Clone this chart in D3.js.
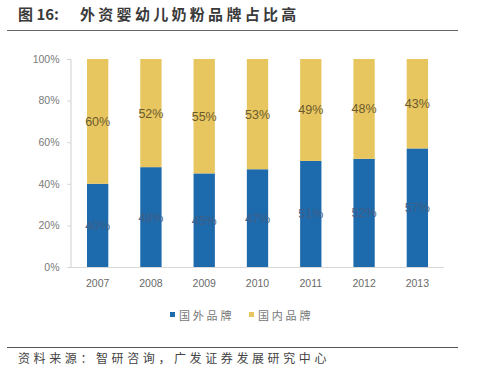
<!DOCTYPE html>
<html>
<head>
<meta charset="utf-8">
<script src="https://cdn.jsdelivr.net/npm/d3@7"></script>
<style>
  body { margin: 0; background: #fff; }
  svg { display: block; }
</style>
</head>
<body>
<div id="chart"></div>
<script>
// data
var years = ["2007", "2008", "2009", "2010", "2011", "2012", "2013"];
var foreignShare = [40, 48, 45, 47, 51, 52, 57];   // 国外品牌
var domesticShare = [60, 52, 55, 53, 49, 48, 43];  // 国内品牌
var seriesNames = ["国外品牌", "国内品牌"];
var yTicks = [0, 20, 40, 60, 80, 100];

var w = 486, h = 376;
var cnFont = "'Noto Sans CJK SC', sans-serif";

var svg = d3.select("#chart").append("svg")
    .attr("width", w)
    .attr("height", h);

// title + rule
var title = svg.append("text")
    .attr("x", 18).attr("y", 20)
    .attr("font-family", cnFont)
    .attr("font-size", 15)
    .attr("font-weight", "bold")
    .attr("fill", "#3a3a3a");
title.append("tspan").text("图 16:");
title.append("tspan").attr("x", 80).attr("letter-spacing", 3.3).text("外资婴幼儿奶粉品牌占比高");

svg.append("line")
    .attr("x1", 7).attr("x2", 458)
    .attr("y1", 30.5).attr("y2", 30.5)
    .attr("stroke", "#666").attr("stroke-width", 1.2);

var x = d3.scaleBand()
    .domain(years)
    .range([71, 444])
    .paddingInner(0.6)
    .paddingOuter(0.3);

var y = d3.scaleLinear()
    .domain([0, 100])
    .range([267, 59]);

// y axis
var yAxis = svg.append("g")
    .attr("transform", "translate(70.5,0)")
    .call(d3.axisLeft(y).tickValues(yTicks).tickSize(3).tickPadding(8)
        .tickFormat(function(d) { return d + "%"; }));
yAxis.selectAll("path, line").attr("stroke", "#d0d0d0");
yAxis.selectAll("text")
    .attr("font-family", "Arial, 'Liberation Sans', sans-serif")
    .attr("font-size", 10.5)
    .attr("fill", "#7a7a7a");

// x axis
var xAxis = svg.append("g")
    .attr("transform", "translate(0,267.5)")
    .call(d3.axisBottom(x).tickSize(0).tickPadding(12));
xAxis.select("path").attr("d", "M70.5,0H444").attr("stroke", "#d8d8d8");
xAxis.selectAll("text")
    .attr("font-family", "Arial, 'Liberation Sans', sans-serif")
    .attr("font-size", 10.5)
    .attr("fill", "#6a6a6a");

var colors = ["#1d6aad", "#e7c660"];

var rows = years.map(function(yr, i) {
    return { year: yr, foreign: foreignShare[i], domestic: domesticShare[i] };
});
var stack = d3.stack().keys(["foreign", "domestic"]);
var series = stack(rows);

series.forEach(function(s, si) {
    svg.append("g").selectAll("rect")
        .data(s)
        .enter()
        .append("rect")
        .attr("x", function(d) { return x(d.data.year); })
        .attr("width", x.bandwidth())
        .attr("y", function(d) { return y(d[1]); })
        .attr("height", function(d) { return y(d[0]) - y(d[1]); })
        .attr("fill", colors[si]);

    svg.append("g").selectAll("text")
        .data(s)
        .enter()
        .append("text")
        .attr("x", function(d) { return x(d.data.year) + x.bandwidth() / 2; })
        .attr("y", function(d) { return y((d[0] + d[1]) / 2) + 4.5; })
        .attr("text-anchor", "middle")
        .attr("font-family", "Arial, 'Liberation Sans', sans-serif")
        .attr("font-size", 12.5)
        .attr("fill", si === 0 ? "#3f5f86" : "#6b5a2e")
        .text(function(d) { return (d[1] - d[0]) + "%"; });
});

// legend
var legend = svg.append("g");
var legendX = [170, 249];
seriesNames.forEach(function(name, i) {
    legend.append("rect")
        .attr("x", legendX[i]).attr("y", 312)
        .attr("width", 5).attr("height", 5)
        .attr("fill", colors[i]);
    legend.append("text")
        .attr("x", legendX[i] + 9).attr("y", 319.5)
        .attr("font-family", cnFont)
        .attr("font-size", 11)
        .attr("letter-spacing", 2.8)
        .attr("fill", "#777")
        .text(name);
});

// source rule + text
svg.append("line")
    .attr("x1", 7).attr("x2", 458)
    .attr("y1", 347.5).attr("y2", 347.5)
    .attr("stroke", "#555").attr("stroke-width", 1);

svg.append("text")
    .attr("x", 18).attr("y", 363)
    .attr("font-family", cnFont)
    .attr("font-size", 12)
    .attr("letter-spacing", 3.6)
    .attr("fill", "#444")
    .text("资料来源：智研咨询，广发证券发展研究中心");
</script>
</body>
</html>
